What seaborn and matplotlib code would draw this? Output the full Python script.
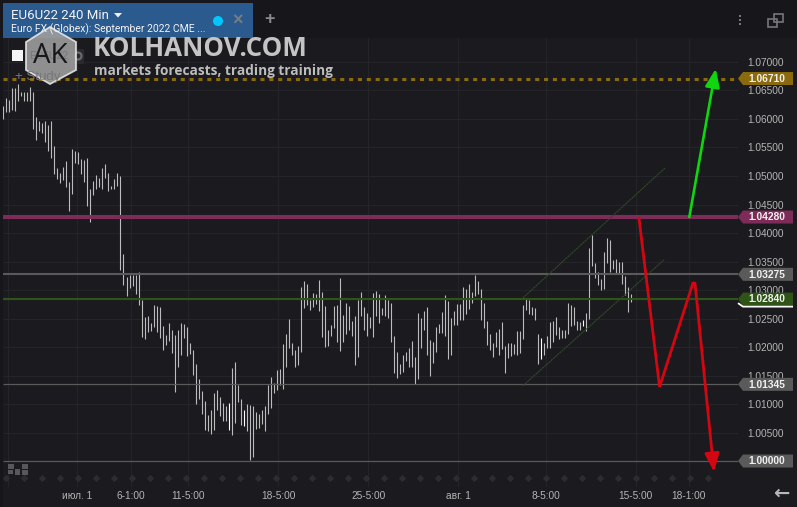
import matplotlib
matplotlib.use("Agg")
import matplotlib.pyplot as plt
from matplotlib.patches import Polygon, Rectangle, Circle
import seaborn as sns
import pandas as pd

# bar highs and lows
highs = [
    1.0623, 1.0637, 1.0633, 1.0654, 1.0654, 1.0661, 1.0647, 1.0647, 1.0647, 1.0656, 1.0647,
    1.0604, 1.0596, 1.0593, 1.0596, 1.0589, 1.0596, 1.0553, 1.0514, 1.0505, 1.0516, 1.0526,
    1.0489, 1.0547, 1.0544, 1.0542, 1.0530, 1.0528, 1.0532, 1.0477, 1.0491, 1.0502, 1.0496,
    1.0514, 1.0521, 1.0505, 1.0482, 1.0495, 1.0505, 1.0500, 1.0363, 1.0323, 1.0326, 1.0326,
    1.0326, 1.0332, 1.0282, 1.0253, 1.0254, 1.0242, 1.0274, 1.0272, 1.0270, 1.0237, 1.0221,
    1.0242, 1.0230, 1.0221, 1.0230, 1.0242, 1.0240, 1.0235, 1.0207, 1.0195, 1.0170, 1.0144,
    1.0123, 1.0105, 1.0081, 1.0089, 1.0119, 1.0125, 1.0112, 1.0102, 1.0096, 1.0102, 1.0163,
    1.0174, 1.0133, 1.0109, 1.0089, 1.0100, 1.0098, 1.0096, 1.0086, 1.0082, 1.0089, 1.0096,
    1.0133, 1.0147, 1.0137, 1.0160, 1.0161, 1.0205, 1.0223, 1.0249, 1.0207, 1.0195, 1.0202,
    1.0305, 1.0316, 1.0311, 1.0282, 1.0295, 1.0293, 1.0318, 1.0296, 1.0272, 1.0230, 1.0239,
    1.0272, 1.0274, 1.0321, 1.0256, 1.0277, 1.0272, 1.0246, 1.0254, 1.0282, 1.0296, 1.0270,
    1.0260, 1.0253, 1.0295, 1.0298, 1.0293, 1.0268, 1.0291, 1.0282, 1.0277, 1.0219, 1.0191,
    1.0170, 1.0186, 1.0191, 1.0198, 1.0211, 1.0182, 1.0260, 1.0251, 1.0263, 1.0270, 1.0212,
    1.0209, 1.0235, 1.0240, 1.0261, 1.0291, 1.0281, 1.0251, 1.0263, 1.0275, 1.0275, 1.0305,
    1.0302, 1.0311, 1.0296, 1.0326, 1.0316, 1.0302, 1.0277, 1.0246, 1.0223, 1.0207, 1.0226,
    1.0232, 1.0244, 1.0202, 1.0207, 1.0207, 1.0205, 1.0228, 1.0228, 1.0274, 1.0284, 1.0282,
    1.0270, 1.0268, 1.0223, 1.0216, 1.0207, 1.0219, 1.0244, 1.0246, 1.0253, 1.0235, 1.0230,
    1.0230, 1.0277, 1.0274, 1.0270, 1.0246, 1.0244, 1.0247, 1.0260, 1.0374, 1.0396, 1.0347,
    1.0332, 1.0319, 1.0367, 1.0391, 1.0388, 1.0353, 1.0354, 1.0349, 1.0349, 1.0325, 1.0305,
    1.0293,
]
lows = [
    1.0600, 1.0612, 1.0612, 1.0616, 1.0614, 1.0632, 1.0640, 1.0632, 1.0632, 1.0632, 1.0582,
    1.0563, 1.0579, 1.0575, 1.0560, 1.0544, 1.0532, 1.0504, 1.0495, 1.0488, 1.0493, 1.0481,
    1.0439, 1.0468, 1.0523, 1.0521, 1.0504, 1.0489, 1.0447, 1.0419, 1.0467, 1.0477, 1.0481,
    1.0477, 1.0496, 1.0474, 1.0477, 1.0477, 1.0482, 1.0335, 1.0309, 1.0289, 1.0304, 1.0307,
    1.0293, 1.0274, 1.0218, 1.0214, 1.0226, 1.0228, 1.0235, 1.0226, 1.0216, 1.0195, 1.0204,
    1.0211, 1.0189, 1.0121, 1.0165, 1.0186, 1.0216, 1.0184, 1.0188, 1.0151, 1.0100, 1.0109,
    1.0082, 1.0054, 1.0053, 1.0047, 1.0054, 1.0089, 1.0079, 1.0070, 1.0070, 1.0054, 1.0046,
    1.0067, 1.0104, 1.0063, 1.0061, 1.0053, 1.0002, 1.0007, 1.0056, 1.0058, 1.0065, 1.0053,
    1.0082, 1.0093, 1.0119, 1.0125, 1.0133, 1.0126, 1.0165, 1.0198, 1.0186, 1.0165, 1.0168,
    1.0191, 1.0268, 1.0274, 1.0265, 1.0270, 1.0275, 1.0263, 1.0218, 1.0200, 1.0202, 1.0219,
    1.0233, 1.0209, 1.0193, 1.0209, 1.0223, 1.0230, 1.0219, 1.0168, 1.0182, 1.0254, 1.0230,
    1.0219, 1.0233, 1.0218, 1.0254, 1.0242, 1.0256, 1.0254, 1.0251, 1.0209, 1.0154, 1.0146,
    1.0153, 1.0156, 1.0175, 1.0165, 1.0165, 1.0135, 1.0144, 1.0198, 1.0230, 1.0186, 1.0149,
    1.0172, 1.0191, 1.0225, 1.0225, 1.0219, 1.0179, 1.0186, 1.0239, 1.0239, 1.0247, 1.0247,
    1.0258, 1.0267, 1.0277, 1.0289, 1.0293, 1.0247, 1.0233, 1.0204, 1.0195, 1.0182, 1.0200,
    1.0186, 1.0196, 1.0154, 1.0181, 1.0184, 1.0188, 1.0186, 1.0189, 1.0214, 1.0265, 1.0258,
    1.0256, 1.0247, 1.0170, 1.0179, 1.0186, 1.0198, 1.0198, 1.0209, 1.0221, 1.0214, 1.0216,
    1.0216, 1.0223, 1.0237, 1.0239, 1.0230, 1.0230, 1.0237, 1.0228, 1.0249, 1.0342, 1.0321,
    1.0309, 1.0300, 1.0302, 1.0347, 1.0332, 1.0337, 1.0330, 1.0328, 1.0311, 1.0291, 1.0261,
    1.0279,
]
white_bars = [75, 80, 179, 193]

level_prices = [1.0671, 1.0428, 1.03275, 1.0284, 1.01345, 1.0]
level_labels = ["1.06710", "1.04280", "1.03275", "1.02840", "1.01345", "1.00000"]
level_colors = ["#8a6a0c", "#7d2b58", "#5a5a5a", "#2e5416", "#5a5a5a", "#5a5a5a"]
level_widths = [2.2, 2.9, 1.5, 1.5, 0.9, 0.9]

price_ticks = [1.0 + 0.005 * k for k in range(15)]
time_ticks = [1.7, 24.6, 42.6, 61.6, 91.5, 121.5, 151.3, 180.6, 210.5, 228.1]
time_labels = ["", "июл. 1", "6-1:00", "11-5:00", "18-5:00", "25-5:00", "авг. 1", "8-5:00", "15-5:00", "18-1:00"]

channel_upper = ([172.9, 220.2], [1.0286, 1.0514])
channel_lower = ([172.9, 219.9], [1.0132, 1.0353])
up_path = ([228.3, 237.1], [1.0428, 1.0688])
down_path = ([211.5, 218.4, 229.5, 230.2, 236.5], [1.0428, 1.0130, 1.0312, 1.0312, 0.9981])

BG = "#1b1b1f"

sns.set_theme(style="dark", rc={"axes.facecolor": BG, "figure.facecolor": BG, "lines.solid_capstyle": "butt"})
plt.rcParams["font.family"] = ["Liberation Sans", "DejaVu Sans"]

fig = plt.figure(figsize=(7.97, 5.07), dpi=100)
ax = fig.add_axes([3 / 797, 1 - 487 / 507, 735 / 797, 449 / 507])

n = len(highs)
bars = pd.DataFrame({
    "bar": list(range(n)) * 2,
    "price": highs + lows,
})
plain = bars[~bars["bar"].isin(white_bars)]
bright = bars[bars["bar"].isin(white_bars)]
sns.lineplot(data=plain, x="bar", y="price", units="bar", estimator=None,
             color="#bcbcbc", lw=0.8, ax=ax, legend=False, zorder=2)
sns.lineplot(data=bright, x="bar", y="price", units="bar", estimator=None,
             color="#ffffff", lw=0.8, ax=ax, legend=False, zorder=2)

ax.set_xlim(-0.1, 244.5)
ax.set_ylim(0.99544, 1.07421)
ax.set_xlabel("")
ax.set_ylabel("")
for side in ax.spines.values():
    side.set_visible(False)

ax.yaxis.tick_right()
ax.set_yticks(price_ticks)
ax.set_yticklabels([f"{p:.5f}" for p in price_ticks])
ax.set_xticks(time_ticks)
ax.set_xticklabels(time_labels)
ax.tick_params(axis="y", length=0, pad=7, labelsize=7.3, labelcolor="#b4b4b4")
ax.tick_params(axis="x", length=0, pad=3, labelsize=7.3, labelcolor="#b4b4b4")
ax.grid(True, color="#252529", lw=0.8)
ax.set_axisbelow(True)

# levels
for i, price in enumerate(level_prices):
    style = (0, (1.33, 1.57)) if i == 0 else "-"
    ax.axhline(price, color=level_colors[i], lw=level_widths[i], ls=style, zorder=3)

for xs, ys in (channel_upper, channel_lower):
    ax.plot(xs, ys, color="#2f4a28", lw=0.8, ls=(0, (2, 0.6)), zorder=3)

# forecast arrows
head = "-|>,head_length=1.0,head_width=0.4"
ax.plot(down_path[0][:-1], down_path[1][:-1], color="#d40612", lw=2.0, zorder=4, solid_joinstyle="miter")
ax.annotate("", xy=(down_path[0][-1], down_path[1][-1]), xytext=(down_path[0][-2], down_path[1][-2]),
            arrowprops=dict(arrowstyle=head, color="#d40612", lw=2.0, mutation_scale=11,
                            shrinkA=0, shrinkB=0), annotation_clip=False, zorder=4)
ax.annotate("", xy=(up_path[0][1], up_path[1][1]), xytext=(up_path[0][0], up_path[1][0]),
            arrowprops=dict(arrowstyle=head, color="#0fd60f", lw=1.9, mutation_scale=11,
                            shrinkA=0, shrinkB=0), annotation_clip=False, zorder=4)

# overlay in pixel coordinates for the platform furniture
ui = fig.add_axes([0, 0, 1, 1], facecolor="none")
ui.set_xlim(0, 797)
ui.set_ylim(507, 0)
ui.axis("off")

# darker top strip and left edge
ui.add_patch(Rectangle((0, 0), 797, 38, color="#17171b", lw=0))
ui.add_patch(Rectangle((0, 38), 3, 469, color="#17171b", lw=0))

# price tags
for price, label, color in zip(level_prices, level_labels, level_colors):
    cy = 461 - (price - 1.0) * 5700
    ui.add_patch(Polygon([(738, cy), (743, cy - 6.5), (793, cy - 6.5), (793, cy + 6.5), (743, cy + 6.5)],
                         color=color, lw=0))
    ui.text(748, cy + 0.3, label, color="#f0f0f0", fontsize=7.4, fontweight="bold", va="center", ha="left")
y_white = 461 - (1.0284 - 1.0) * 5700
ui.plot([738, 743, 793], [y_white + 4, y_white + 7.5, y_white + 7.5], color="white", lw=1.3)

# header tab
ui.add_patch(Rectangle((3, 3), 250, 35, color="#2a5a8e", lw=0))
ui.text(11, 15.5, "EU6U22 240 Min", color="#f2f2f2", fontsize=9.5, va="center", family="Roboto")
ui.add_patch(Polygon([(114, 13), (122, 13), (118, 17.5)], color="#f2f2f2", lw=0))
ui.text(11, 29, "Euro FX (Globex): September 2022 CME ...", color="#f2f2f2", fontsize=7.5, va="center", family="Roboto")
ui.add_patch(Circle((218, 21), 5, color="#00c8ff", lw=0))
ui.text(238, 21, "×", color="#7c7c7c", fontsize=13, fontweight="bold", ha="center", va="center")
ui.text(270, 19.5, "+", color="#8c8c8c", fontsize=13, fontweight="bold", ha="center", va="center")

# study row under the logo
ui.add_patch(Rectangle((12, 50), 11, 11, color="#f4f4f4", lw=0))
ui.text(29, 56, "EU6U22", color="#77777b", fontsize=7.5, va="center")
ui.add_patch(Rectangle((70, 49), 14, 15, color="#2a2a2e", lw=0))
ui.add_patch(Circle((78, 56), 3.5, fill=False, ec="#6a6a6e", lw=1.6))
ui.text(15, 77, "+ Study", color="#77777b", fontsize=9.5, va="center")

# logo
ui.add_patch(Polygon([(50, 27), (76, 42), (76, 70), (50, 84), (26, 70), (26, 42)],
                     fc="#a0a0a0", ec="#e8e8e8", lw=1.3, alpha=0.88))
ui.text(50, 56, "AK", color="#17171a", fontsize=20, fontweight="medium", ha="center", va="center", family="Open Sans")
ui.text(93, 48, "KOLHANOV.COM", color="#c4c4c4", fontsize=18.7, fontweight="bold", va="center", family="Open Sans")
ui.text(94, 70.5, "markets forecasts, trading training", color="#bdbdbd", fontsize=9.85,
        fontweight="bold", va="center", family="Open Sans")

# scroll diamonds and corner icons
ui.scatter([6 + 18 * k for k in range(40)], [478] * 40, marker="D", s=14, color="#2d2d31", lw=0)
for x0, y0, w, h in [(8, 464, 6, 5), (15, 469, 5, 6), (22, 464, 6, 5), (22, 470, 6, 5), (8, 470, 5, 4)]:
    ui.add_patch(Rectangle((x0, y0), w, h, color="#58585c", lw=0))
ui.text(781, 493, "←", color="#b8b8b8", fontsize=14, fontweight="bold", ha="center", va="center", family="DejaVu Sans")
ui.scatter([740, 740, 740], [16, 20, 24], marker="s", s=3.5, color="#77777b", lw=0)
ui.add_patch(Rectangle((768, 19), 9, 8, fill=False, ec="#77777b", lw=1.2))
ui.add_patch(Rectangle((774, 14), 9, 8, fill=False, ec="#77777b", lw=1.2))

fig.savefig("out.png", dpi=100, facecolor=fig.get_facecolor())
